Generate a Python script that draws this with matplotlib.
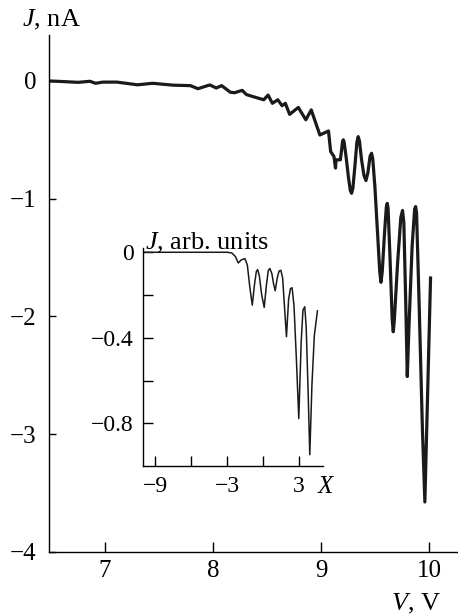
import matplotlib
matplotlib.use("Agg")
import matplotlib.pyplot as plt

plt.rcParams['font.family'] = ['Liberation Serif', 'DejaVu Serif']
plt.rcParams['mathtext.fontset'] = 'custom'
plt.rcParams['mathtext.rm'] = 'Liberation Serif'
plt.rcParams['mathtext.it'] = 'Liberation Serif:italic'

# Main curve: voltage V (V) and current J (nA)
V = [6.48, 6.60, 6.75, 6.86, 6.91, 6.98, 7.11, 7.30, 7.44, 7.63, 7.79, 7.86, 7.97,
     8.03, 8.08, 8.16, 8.20, 8.27, 8.31, 8.37, 8.47, 8.51, 8.55, 8.60, 8.64, 8.67,
     8.71, 8.79, 8.86, 8.91, 8.99, 9.07, 9.09, 9.12, 9.135, 9.14, 9.18,
     9.192, 9.200, 9.207, 9.215, 9.235, 9.255, 9.272, 9.284, 9.296, 9.315, 9.333,
     9.345, 9.357, 9.375, 9.398, 9.417, 9.435, 9.455, 9.469, 9.480, 9.500, 9.525,
     9.545, 9.556, 9.568, 9.590, 9.606, 9.614, 9.622, 9.640, 9.660, 9.670, 9.680,
     9.710, 9.740, 9.756, 9.768, 9.785, 9.800, 9.815, 9.845, 9.868, 9.877, 9.886,
     9.910, 9.940, 9.963, 10.016]
J = [0.0, -0.005, -0.012, -0.003, -0.02, -0.01, -0.01, -0.033, -0.02, -0.036, -0.04, -0.066, -0.034,
     -0.06, -0.04, -0.096, -0.10, -0.08, -0.116, -0.133, -0.16, -0.12, -0.19, -0.16, -0.21, -0.19,
     -0.284, -0.225, -0.33, -0.246, -0.459, -0.425, -0.60, -0.64, -0.74, -0.67, -0.67,
     -0.58, -0.515, -0.50, -0.52, -0.66, -0.82, -0.93, -0.954, -0.91, -0.72, -0.52,
     -0.473, -0.51, -0.66, -0.80, -0.846, -0.78, -0.64, -0.614, -0.66, -0.90, -1.30,
     -1.62, -1.71, -1.62, -1.28, -1.07, -1.04, -1.08, -1.50, -2.02, -2.13, -2.03,
     -1.55, -1.16, -1.10, -1.20, -1.85, -2.51, -2.10, -1.40, -1.09, -1.067, -1.12,
     -1.90, -2.95, -3.575, -1.66]

# Inset curve: X and J (arb. units)
X_in = [-10.0, -3.0, -2.6, -2.3, -2.06, -1.8, -1.5, -1.3, -1.1, -0.89, -0.7, -0.55, -0.44,
        -0.3, -0.1, 0.11, 0.3, 0.45, 0.58, 0.75, 0.9, 1.03, 1.2, 1.35, 1.5, 1.65, 1.8,
        1.97, 2.15, 2.3, 2.44, 2.6, 2.8, 3.0, 3.2, 3.35, 3.5, 3.62, 3.78, 3.92, 4.1,
        4.3, 4.56]
J_in = [0.0, 0.0, -0.003, -0.02, -0.05, -0.035, -0.03, -0.06, -0.16, -0.247, -0.15, -0.09, -0.081,
        -0.11, -0.2, -0.258, -0.15, -0.085, -0.076, -0.10, -0.15, -0.18, -0.12, -0.088, -0.084, -0.12, -0.25,
        -0.395, -0.22, -0.17, -0.166, -0.25, -0.50, -0.778, -0.42, -0.27, -0.255, -0.35, -0.65, -0.947, -0.62,
        -0.39, -0.274]

main_xticks = [7, 8, 9, 10]
main_yticks = [0, -1, -2, -3, -4]
inset_xticks = [-9, -6, -3, 0, 3]
inset_xticklabels = ['−9', '', '−3', '', '3']
inset_yticks = [0, -0.2, -0.4, -0.6, -0.8]
inset_yticklabels = ['0', '', '−0.4', '', '−0.8']

fig = plt.figure(figsize=(4.58, 6.16), dpi=100)
ax = fig.add_axes([49/458, 64/616, 1 - 49/458, (552-35)/616])
ax.plot(V, J, color='#1a1a1a', lw=2.3, solid_joinstyle='round', solid_capstyle='butt')
ax.set_xlim(6.48, 10.27)
ax.set_ylim(-4, 0.39)
for s in ['top', 'right']:
    ax.spines[s].set_visible(False)
for s in ['left', 'bottom']:
    ax.spines[s].set_linewidth(1.0)
ax.set_xticks(main_xticks)
ax.set_xticklabels([str(t) for t in main_xticks])
ax.set_yticks(main_yticks)
ax.set_yticklabels(['0', '−1', '−2', '−3', '−4'])
ax.tick_params(axis='x', direction='in', length=7, width=1, labelsize=18, pad=6)
ax.tick_params(axis='y', direction='in', length=5, width=1, labelsize=18, pad=9)

fig.text(22/458, 1 - 26/616, r'$\mathit{J}$, nA', fontsize=19, ha='left', va='baseline')
fig.text(441/458, 1 - 610/616, r'$\mathit{V}$, V', fontsize=19, ha='right', va='baseline')

ins = fig.add_axes([143.3/458, (616-466)/616, (322.7-143.3)/458, (466-248)/616])
ins.plot(X_in, J_in, color='#1a1a1a', lw=1.1, solid_joinstyle='round')
ins.set_xlim(-10, 5)
ins.set_ylim(-1.0, 0.02)
ins.patch.set_alpha(0)
for s in ['top', 'right']:
    ins.spines[s].set_visible(False)
for s in ['left', 'bottom']:
    ins.spines[s].set_linewidth(1.0)
ins.set_xticks(inset_xticks)
ins.set_xticklabels(inset_xticklabels)
ins.set_yticks(inset_yticks)
ins.set_yticklabels(inset_yticklabels)
ins.tick_params(axis='x', direction='in', length=7, width=1, labelsize=17, pad=7)
ins.tick_params(axis='y', direction='in', length=7, width=1, labelsize=17, pad=7)
fig.text(145/458, 1 - 249/616, r'$\mathit{J}$, arb. units', fontsize=19, ha='left', va='baseline')
fig.text(317/458, 1 - 493/616, r'$\mathit{X}$', fontsize=18, ha='left', va='baseline')

fig.savefig('out.png', dpi=100)
